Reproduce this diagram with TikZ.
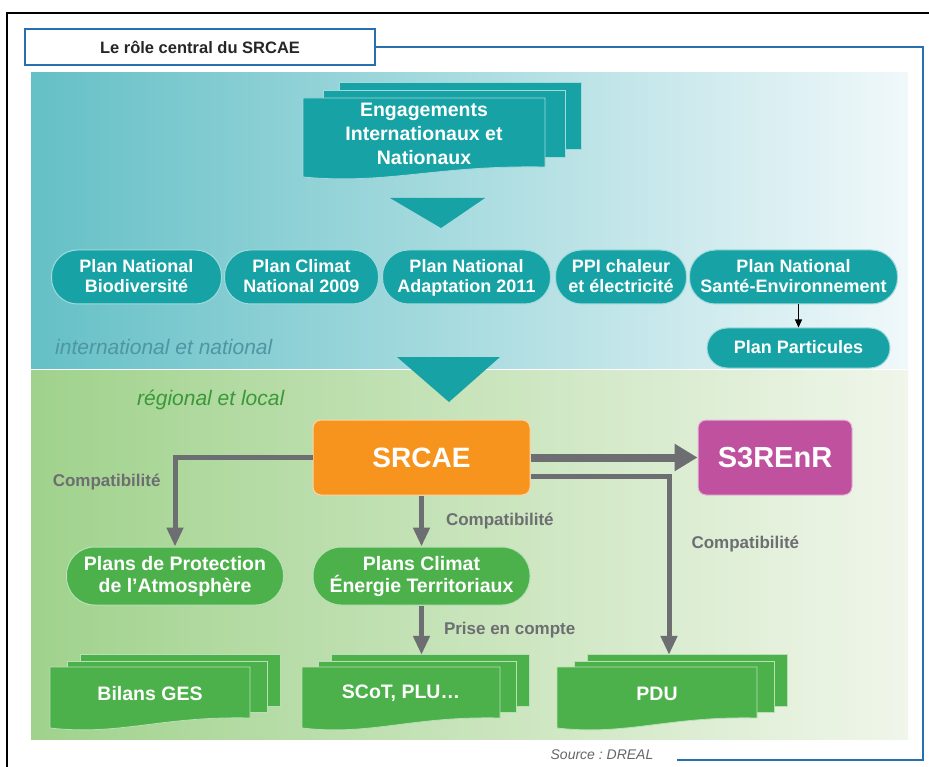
\documentclass[tikz,border=0pt]{standalone}
\usepackage{fontspec}
\setmainfont{Liberation Sans}
\usetikzlibrary{positioning,arrows.meta}
\definecolor{tealbox}{RGB}{23,163,165}
\definecolor{greenbox}{RGB}{77,177,75}
\definecolor{orangebox}{RGB}{247,148,30}
\definecolor{plumbox}{RGB}{192,81,159}
\definecolor{arrowgray}{RGB}{109,110,113}
\definecolor{frameblue}{RGB}{38,112,176}
\definecolor{tealtext}{RGB}{78,150,162}
\definecolor{greentext}{RGB}{58,152,58}
\definecolor{tealL}{RGB}{100,192,198}
\definecolor{tealM}{RGB}{176,223,227}
\definecolor{tealR}{RGB}{240,248,250}
\definecolor{greenL}{RGB}{160,210,140}
\definecolor{greenM}{RGB}{196,228,176}
\definecolor{greenR}{RGB}{240,246,234}
\newcommand\docstack[7]{%
  \filldraw[sheet=#6] ({#2+0.15*#4},{#3-0.2*#5}) rectangle ({#2+1.15*#4},{#3+0.65*#5});
  \filldraw[sheet=#6] ({#2+0.085*#4},{#3-0.1*#5}) rectangle ({#2+1.085*#4},{#3+0.75*#5});
  \filldraw[sheet=#6] (#2,#3) -- (#2,{#3+#5}) .. controls ({#2+0.35*#4},{#3+#5+8}) and ({#2+0.55*#4},{#3+#5-12}) .. ({#2+#4},{#3+#5-10}) -- ({#2+#4},#3) -- cycle;
  \coordinate (#1-top) at ({#2+0.15*#4},{#3-0.2*#5});
  \node[doctext] (#1) at ({#2+#4/2},{#3+#5/2-4}) {#7};}

\begin{document}
\begin{tikzpicture}[x=1pt,y=-1pt,
  sheet/.style={fill=#1,draw=white!60!#1,line width=0.8pt},
  doctext/.style={text=white,align=center,inner sep=0pt,font=\bfseries\fontsize{19.5}{24}\selectfont},
  tpill/.style={fill=tealbox,draw=white!60!tealbox,line width=1pt,rounded corners=26pt,minimum height=54pt,
    inner sep=0pt,text depth=2.5pt,text=white,align=center,font=\bfseries\fontsize{18}{20}\selectfont},
  gpill/.style={fill=greenbox,draw=white!60!greenbox,line width=1pt,rounded corners=28pt,minimum width=217pt,
    minimum height=58pt,inner sep=0pt,text depth=3pt,text=white,align=center,font=\bfseries\fontsize{19.5}{22}\selectfont},
  box/.style={draw=white!60!#1,fill=#1,line width=1pt,rounded corners=8pt,minimum height=75pt,text=white,
    font=\bfseries\fontsize{29}{32}\selectfont},
  lbl/.style={text=arrowgray,font=\bfseries\fontsize{17}{19}\selectfont,inner sep=0pt},
  band/.style={font=\itshape\fontsize{21}{24}\selectfont,inner sep=0pt,anchor=west},
  arr/.style={draw=arrowgray,line width=5pt,-{Triangle[length=19pt,width=16pt]}},
  bigarr/.style={draw=arrowgray,line width=8pt,-{Triangle[length=23pt,width=26pt]}}]
\useasboundingbox (0,0) rectangle (929,767);
\shade[left color=tealL,middle color=tealM,right color=tealR] (31,73) rectangle (908,368);
\shade[left color=greenL,middle color=greenM,right color=greenR] (31,370) rectangle (908,739);
\draw[line width=1.6pt] (7,767) |- (929,13);
\node[draw=frameblue,line width=1.5pt,fill=white,minimum width=350pt,minimum height=36pt,
  font=\bfseries\fontsize{16.5}{18}\selectfont,text=black!85] (title) at (200,47) {Le rôle central du SRCAE};
\coordinate (corner) at (923,760);
\draw[frameblue,line width=1.8pt] (title.east) -| (corner) -- ++(-246,0);
\node[font=\itshape\fontsize{14}{16}\selectfont,text=black!60] (src) at (602,755) {Source~:\ DREAL};

\docstack{eng}{303}{98}{242}{79}{tealbox}{Engagements\\Internationaux et\\Nationaux}
\fill[tealbox] (390,198) -- (485,198) -- (441,228) -- cycle;
\node[tpill,minimum width=170pt] (bio) at (136.5,277) {Plan National\\Biodiversité};
\node[tpill,minimum width=154pt,right=2pt of bio] (clim) {Plan Climat\\National 2009};
\node[tpill,minimum width=168pt,right=3pt of clim] (adapt) {Plan National\\Adaptation 2011};
\node[tpill,minimum width=131pt,right=4pt of adapt] (ppi) {PPI chaleur\\et électricité};
\node[tpill,minimum width=208pt,right=2pt of ppi] (sante) {Plan National\\Santé-Environnement};
\node[tpill,minimum width=183pt,minimum height=40pt,rounded corners=20pt] (part) at (798.5,348) {Plan Particules};
\draw[line width=1.3pt,-{Triangle[length=8pt,width=7pt]}] (sante.south -| part.north) -- (part.north);
\node[band,text=tealtext] (intl) at (55,347) {international et national};
\fill[tealbox] (397,357) -- (500,357) -- (449,402) -- cycle;
\node[band,text=greentext] (reg) at (137,400) {régional et local};

\node[box=orangebox,minimum width=217pt,font=\bfseries\fontsize{28}{32}\selectfont] (srcae) at (421.5,457.5) {SRCAE};
\node[box=plumbox,minimum width=154pt] (s3r) at (775,457.5) {S3REnR};
\node[gpill] (ppa) at (175,576) {Plans de Protection\\de l’Atmosphère};
\node[gpill] (pcet) at (421.5,576) {Plans Climat\\Énergie Territoriaux};
\docstack{bil}{50}{667}{200}{61}{greenbox}{Bilans GES}
\docstack{scot}{302}{667}{198}{61}{greenbox}{SCoT, PLU…}
\docstack{pdu}{557}{667}{200}{61}{greenbox}{PDU}

\draw[bigarr] (srcae.east) -- (s3r.west);
\draw[arr] (srcae.west) -| (ppa.north) node[lbl,pos=0.64,left=12pt] {Compatibilité};
\draw[arr] (srcae.south) -- (pcet.north) node[lbl,midway,right=22pt] {Compatibilité};
\draw[arr] ([yshift=-19pt]srcae.east) -| ([xshift=82pt]pdu-top) node[lbl,pos=0.69,right=20pt] {Compatibilité};
\draw[arr] (pcet.south) -- (pcet.south |- scot-top) node[lbl,midway,right=20pt] {Prise en compte};
\end{tikzpicture}
\end{document}
